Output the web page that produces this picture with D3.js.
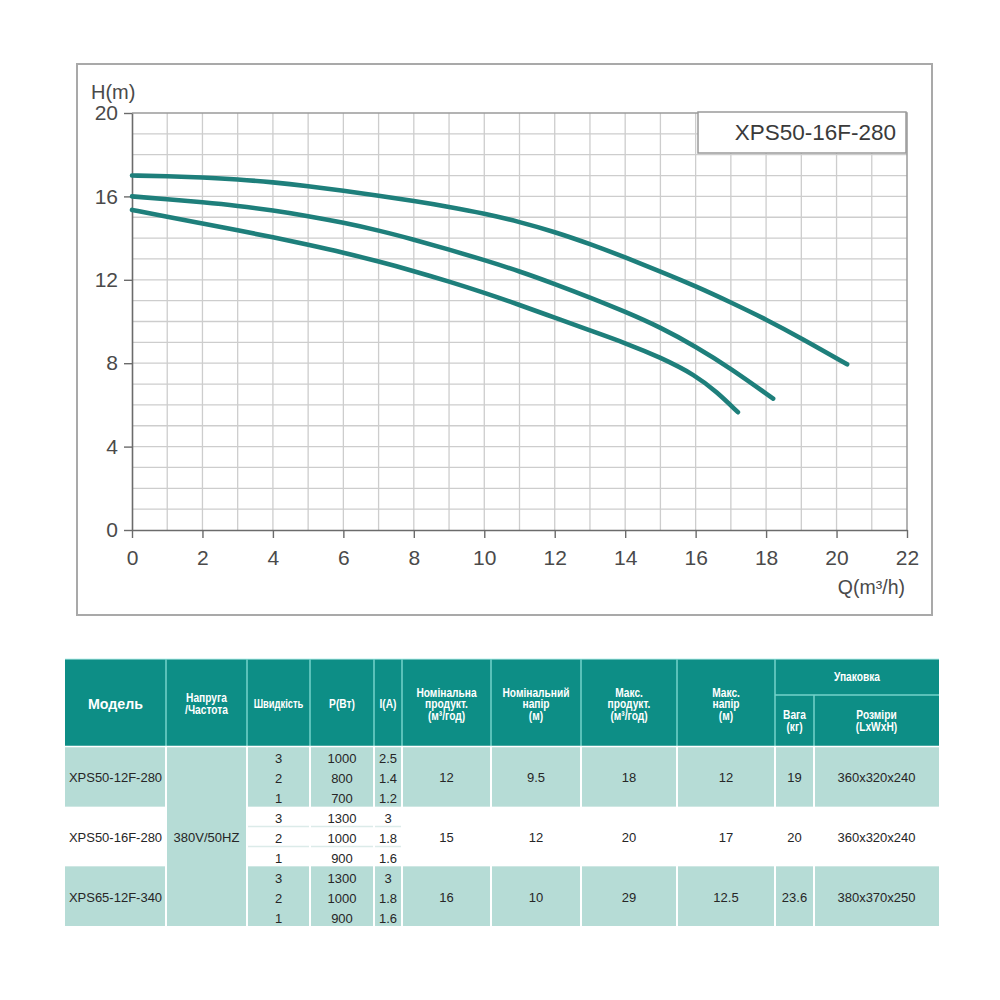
<!DOCTYPE html>
<html>
<head>
<meta charset="utf-8">
<script src="https://cdn.jsdelivr.net/npm/d3@7"></script>
<style>
  html, body { margin: 0; padding: 0; background: #fff; }
  svg text { font-family: "Liberation Sans", Arial, sans-serif; }
  .hdr { font-weight: bold; }
</style>
</head>
<body>
<svg id="chart" width="1000" height="1000"></svg>
<script>
// ---- curve data (Q m³/h, H m) ----
const curveSpeed3 = [[0,17.0],[1,16.97],[2,16.91],[3,16.82],[4,16.68],[5,16.49],[6,16.27],[7,16.03],[8,15.78],[9,15.5],[10,15.18],[11,14.78],[12,14.3],[13,13.72],[14,13.08],[15,12.4],[16,11.7],[17,10.92],[18,10.1],[19,9.2],[20.3,7.95]];
const curveSpeed2 = [[0,16.0],[1,15.87],[2,15.72],[3,15.55],[4,15.33],[5,15.06],[6,14.74],[7,14.37],[8,13.93],[9,13.45],[10,12.95],[11,12.41],[12,11.8],[13,11.15],[14,10.47],[15,9.72],[16,8.8],[17,7.75],[18.2,6.3]];
const curveSpeed1 = [[0,15.35],[1,15.02],[2,14.7],[3,14.38],[4,14.04],[5,13.68],[6,13.3],[7,12.88],[8,12.42],[9,11.92],[10,11.38],[11,10.8],[12,10.18],[13,9.57],[14,8.97],[15,8.28],[16,7.42],[16.6,6.62],[17.2,5.65]];

const flowTicks = [0,2,4,6,8,10,12,14,16,18,20,22];
const headTicks = [0,4,8,12,16,20];
const legendLabel = "XPS50-16F-280";

// ---- table data ----
const headerLabels = [
  ["Модель"], ["Напруга", "/Частота"], ["Швидкість"], ["P(Вт)"], ["I(A)"],
  ["Номінальна", "продукт.", "(м³/год)"], ["Номінальний", "напір", "(м)"],
  ["Макс.", "продукт.", "(м³/год)"], ["Макс.", "напір", "(м)"]
];
const packLabel = "Упаковка";
const packSubLabels = [["Вага", "(кг)"], ["Розміри", "(LxWxH)"]];
const models = ["XPS50-12F-280", "XPS50-16F-280", "XPS65-12F-340"];
const supply = "380V/50HZ";
const speeds = ["3", "2", "1"];
const powers = [["1000","800","700"], ["1300","1000","900"], ["1300","1000","900"]];
const currents = [["2.5","1.4","1.2"], ["3","1.8","1.6"], ["3","1.8","1.6"]];
const nomFlow = ["12", "15", "16"];
const nomHead = ["9.5", "12", "10"];
const maxFlow = ["18", "20", "29"];
const maxHead = ["12", "17", "12.5"];
const weights = ["19", "20", "23.6"];
const sizes = ["360x320x240", "360x320x240", "380x370x250"];

const svg = d3.select("#chart");

// ================= chart =================
const x = d3.scaleLinear().domain([0, 22]).range([132, 907]);
const y = d3.scaleLinear().domain([0, 20]).range([530, 113]);

// frame
svg.append("rect")
  .attr("x", 77).attr("y", 64).attr("width", 855).attr("height", 551)
  .attr("fill", "#fff").attr("stroke", "#a9a9a9").attr("stroke-width", 2);

// grid
const grid = svg.append("g").attr("stroke", "#cdcdcd").attr("stroke-width", 1.3);
grid.selectAll(".gv").data(d3.range(1, 22)).join("line")
  .attr("x1", d => x(d)).attr("x2", d => x(d))
  .attr("y1", y(0)).attr("y2", y(20));
grid.selectAll(".gh").data(d3.range(1, 20)).join("line")
  .attr("x1", x(0)).attr("x2", x(22))
  .attr("y1", d => y(d)).attr("y2", d => y(d));
// plot border top/right
svg.append("path")
  .attr("d", `M${x(0)},${y(20)}H${x(22)}V${y(0)}`)
  .attr("fill", "none").attr("stroke", "#9a9a9a").attr("stroke-width", 1.5);

// axes
const yAxis = svg.append("g")
  .attr("transform", `translate(${x(0)},0)`)
  .call(d3.axisLeft(y).tickValues(headTicks).tickSize(8).tickSizeOuter(0).tickPadding(6));
const xAxis = svg.append("g")
  .attr("transform", `translate(0,${y(0)})`)
  .call(d3.axisBottom(x).tickValues(flowTicks).tickSize(8).tickSizeOuter(0).tickPadding(12));
[xAxis, yAxis].forEach(g => {
  g.select(".domain").attr("stroke", "#6b6b6b").attr("stroke-width", 1.6);
  g.selectAll(".tick line").attr("stroke", "#6b6b6b").attr("stroke-width", 1.4);
  g.selectAll(".tick text")
    .attr("fill", "#4a4a4a")
    .style("font-size", "21px")
    .style("font-family", "'Liberation Sans', Arial, sans-serif");
});

// axis titles
svg.append("text")
  .attr("x", 91).attr("y", 99)
  .attr("fill", "#4a4a4a").style("font-size", "20px")
  .text("H(m)");
svg.append("text")
  .attr("x", 905).attr("y", 594).attr("text-anchor", "end")
  .attr("fill", "#4a4a4a").style("font-size", "19.5px")
  .text("Q(m³/h)");

// legend box
svg.append("rect")
  .attr("x", 698).attr("y", 112).attr("width", 208).attr("height", 41)
  .attr("fill", "#fff").attr("stroke", "#9a9a9a").attr("stroke-width", 1.5);
svg.append("text")
  .attr("x", 896).attr("y", 140).attr("text-anchor", "end")
  .attr("fill", "#3a3a3a").style("font-size", "22.5px")
  .text(legendLabel);

// curves
const line = d3.line()
  .x(d => x(d[0]))
  .y(d => y(d[1]))
  .curve(d3.curveBasis);

svg.append("g")
  .selectAll("path")
  .data([curveSpeed3, curveSpeed2, curveSpeed1])
  .join("path")
  .attr("d", line)
  .attr("fill", "none")
  .attr("stroke", "#1e7f7b")
  .attr("stroke-width", 4.6)
  .attr("stroke-linecap", "round");

// ================= table =================
const colEdges = [65, 166, 247, 310, 374, 402, 491, 581, 677, 775, 814, 939];
const colMid = i => (colEdges[i] + colEdges[i + 1]) / 2;
const headTop = 659, headBot = 746, packSplit = 695;
const subRow = d3.scaleLinear().domain([0, 9]).range([747, 926]);

const teal = "#0d8e86";
const lightTeal = "#b6dcd6";
const sepHead = "#74d2ca";

const table = svg.append("g");

// header background
table.append("rect")
  .attr("x", colEdges[0]).attr("y", headTop)
  .attr("width", colEdges[11] - colEdges[0]).attr("height", headBot - headTop)
  .attr("fill", teal);
table.append("line")
  .attr("x1", colEdges[0]).attr("x2", colEdges[11])
  .attr("y1", headTop).attr("y2", headTop)
  .attr("stroke", "#bff0ec").attr("stroke-width", 1);

// body backgrounds
[0, 2].forEach(r => {
  table.append("rect")
    .attr("x", colEdges[0]).attr("y", subRow(r * 3))
    .attr("width", colEdges[11] - colEdges[0]).attr("height", subRow(r * 3 + 3) - subRow(r * 3))
    .attr("fill", lightTeal);
});
table.append("rect")
  .attr("x", colEdges[1]).attr("y", subRow(0))
  .attr("width", colEdges[2] - colEdges[1]).attr("height", subRow(9) - subRow(0))
  .attr("fill", lightTeal);

// sub-row lines in white row
[4, 5].forEach(k => {
  table.append("line")
    .attr("x1", colEdges[2]).attr("x2", colEdges[5])
    .attr("y1", subRow(k)).attr("y2", subRow(k))
    .attr("stroke", "#dcebe9").attr("stroke-width", 1.5);
});

// column separators
colEdges.slice(1, 11).forEach((cx, i) => {
  const top = (i + 1 === 10) ? packSplit : headTop;
  table.append("line")
    .attr("x1", cx).attr("x2", cx).attr("y1", top).attr("y2", headBot)
    .attr("stroke", sepHead).attr("stroke-width", 1.5);
  table.append("line")
    .attr("x1", cx).attr("x2", cx).attr("y1", headBot + 1).attr("y2", subRow(9))
    .attr("stroke", "#fff").attr("stroke-width", 2);
});
table.append("line")
  .attr("x1", colEdges[9]).attr("x2", colEdges[11])
  .attr("y1", packSplit).attr("y2", packSplit)
  .attr("stroke", sepHead).attr("stroke-width", 1.5);
table.append("line")
  .attr("x1", colEdges[0]).attr("x2", colEdges[11])
  .attr("y1", headBot + 0.5).attr("y2", headBot + 0.5)
  .attr("stroke", "#fff").attr("stroke-width", 1.5);

// header text (condensed by a horizontal scale, no narrow font installed)
function multiLine(g, lines, cx, cy, size, lh, squeeze) {
  const t = g.append("text")
    .attr("class", "hdr")
    .attr("transform", `translate(${cx},0) scale(${squeeze},1)`)
    .attr("text-anchor", "middle")
    .attr("fill", "#fff").style("font-size", size + "px");
  const y0 = cy - (lines.length - 1) * lh / 2;
  lines.forEach((s, i) => {
    t.append("tspan").attr("x", 0).attr("y", y0 + i * lh).attr("dy", "0.35em").text(s);
  });
}
headerLabels.forEach((lines, i) => {
  if (i === 0) multiLine(table, lines, colMid(i), 704, 15, 11, 0.95);
  else if (i === 2) multiLine(table, lines, colMid(i), 704, 12, 11.5, 0.78);
  else multiLine(table, lines, colMid(i), 704, 12, 11.5, 0.85);
});
multiLine(table, [packLabel], (colEdges[9] + colEdges[11]) / 2, 677, 12, 11.5, 0.85);
packSubLabels.forEach((lines, j) => multiLine(table, lines, colMid(9 + j), 721, 12, 12, 0.85));

// body text
const body = table.append("g").attr("fill", "#262626").style("font-size", "13px").attr("text-anchor", "middle");
function cell(cx, cy, s) {
  body.append("text").attr("x", cx).attr("y", cy).attr("dy", "0.35em").text(s);
}
models.forEach((m, r) => {
  const cy = subRow(r * 3 + 1.5) + 1;
  cell(colMid(0), cy, m);
  speeds.forEach((s, k) => {
    const sy = subRow(r * 3 + k + 0.5) + 2;
    cell(colMid(2), sy, s);
    cell(colMid(3), sy, powers[r][k]);
    cell(colMid(4), sy, currents[r][k]);
  });
  cell(colMid(5), cy, nomFlow[r]);
  cell(colMid(6), cy, nomHead[r]);
  cell(colMid(7), cy, maxFlow[r]);
  cell(colMid(8), cy, maxHead[r]);
  cell(colMid(9), cy, weights[r]);
  cell(colMid(10), cy, sizes[r]);
});
cell(colMid(1), subRow(4.5) + 1, supply);
</script>
</body>
</html>
